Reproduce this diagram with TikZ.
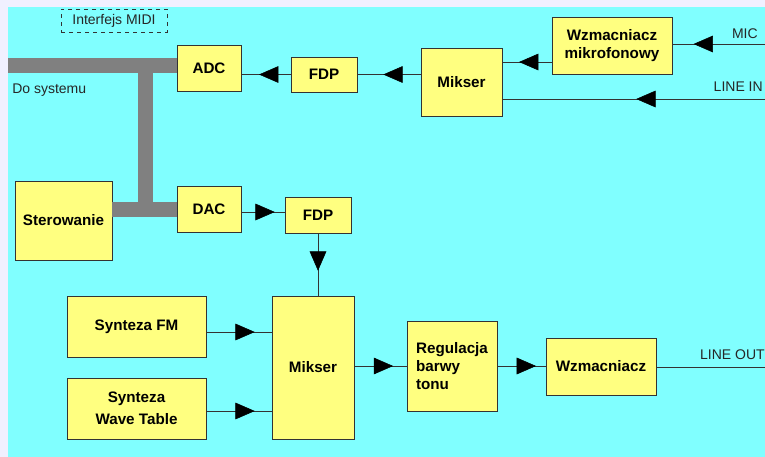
\documentclass[tikz,border=0pt]{standalone}
\usepackage{fontspec}
\setmainfont{Liberation Sans}
\usepackage{xcolor}
\usetikzlibrary{positioning,calc,decorations.markings,arrows.meta}

\definecolor{tlo}{RGB}{128,255,255}
\definecolor{ramka}{RGB}{240,240,255}
\definecolor{blok}{RGB}{255,255,128}
\definecolor{szyna}{RGB}{128,128,128}

\tikzset{
    box/.style={draw=black!80, fill=blok, thin, font=\bfseries\fontsize{11.4}{13.5}\selectfont, inner sep=0pt, align=center},
    label/.style={font=\fontsize{10.5}{12}\selectfont, text=black!85, inner sep=0pt},
    bus/.style={draw=szyna, line width=11.25pt},
    conn/.style={draw=black!80, thin},
    arr/.style={conn, postaction={decorate}, decoration={markings, mark=at position #1 with {\arrow[black]{Triangle[length=14.5pt, width=12.5pt]}}}}
}

\begin{document}
\begin{tikzpicture}[x=0.75pt, y=-0.75pt]
    \useasboundingbox (0,0) rectangle (765,457);
    \fill[ramka] (0,0) rectangle (765,457);
    \fill[tlo] (8,7) rectangle (765,457);

    % MIDI
    \node[label, draw=black!80, dashed, minimum width=106*0.75pt, minimum height=23*0.75pt] (midi) at (114,20.5) {Interfejs MIDI};

    % bus
    \draw[bus] (8,65) -- (177,65);
    \draw[bus] (145,58) -- (145,216);

    % blocks
    \node[box, minimum width=64*0.75pt, minimum height=46*0.75pt] (adc) at (209,68) {ADC};
    \node[box, minimum width=66*0.75pt, minimum height=35*0.75pt] (fdp1) at (324,74.5) {FDP};
    \node[box, minimum width=81*0.75pt, minimum height=68*0.75pt] (mik1) at (461.5,82) {Mikser};
    \node[box, minimum width=120*0.75pt, minimum height=57*0.75pt] (wzmik) at (612,45.5) {Wzmacniacz\\mikrofonowy};
    \node[box, minimum width=97*0.75pt, minimum height=79*0.75pt] (ster) at (63.5,220.5) {Sterowanie};
    \node[box, minimum width=64*0.75pt, minimum height=46*0.75pt] (dac) at (209,209) {DAC};
    \node[box, minimum width=66*0.75pt, minimum height=36*0.75pt] (fdp2) at (318,215) {FDP};
    \node[box, minimum width=139*0.75pt, minimum height=61*0.75pt] (fm) at (136.5,326.5) {Synteza FM};
    \node[box, minimum width=139*0.75pt, minimum height=61*0.75pt] (wave) at (136.5,408.5) {Synteza\\[3pt]Wave Table};
    \node[box, minimum width=82*0.75pt, minimum height=143*0.75pt] (mik2) at (313,367.5) {Mikser};
    \node[box, minimum width=90*0.75pt, minimum height=90*0.75pt, align=left] (reg) at (452,366) {Regulacja\\barwy\\tonu};
    \node[box, minimum width=110*0.75pt, minimum height=57*0.75pt] (wzm) at (601,366.5) {Wzmacniacz};

    \draw[bus] (ster.east |- dac) -- (dac.west);

    % labels
    \node[label, anchor=west] (dosys) at (12,90) {Do systemu};
    \node[label, anchor=east] (mic) at (758,34) {MIC};
    \node[label, anchor=east] (linein) at (763,87) {LINE IN};
    \node[label, anchor=east] (lineout) at (765,355) {LINE OUT};

    \coordinate (micend) at (765,44);
    \coordinate (lineinend) at (765,99);
    \coordinate (lineoutend) at (765,367);

    % connectors
    \draw[arr=0.64] (fdp1.west) -- (adc.east |- fdp1);
    \draw[arr=0.59] (mik1.west |- fdp1) -- (fdp1.east);
    \draw[arr=0.66] (wzmik.west |- 0,62) -- (mik1.east |- 0,62);
    \draw[arr=0.77] (micend) -- (wzmik.east |- micend);
    \draw[arr=0.49] (lineinend) -- (mik1.east |- lineinend);
    \draw[arr=0.77] (dac.east |- 0,212) -- (fdp2.west |- 0,212);
    \draw[arr=0.6] (fdp2.south) -- (mik2.north -| fdp2);
    \draw[arr=0.74] (fm.east |- 0,332) -- (mik2.west |- 0,332);
    \draw[arr=0.74] (wave.east |- 0,411) -- (mik2.west |- 0,411);
    \draw[arr=0.74] (mik2.east |- reg) -- (reg.west);
    \draw[arr=0.8] (reg.east) -- (wzm.west |- reg);
    \draw[conn] (wzm.east |- lineoutend) -- (lineoutend);
\end{tikzpicture}
\end{document}
